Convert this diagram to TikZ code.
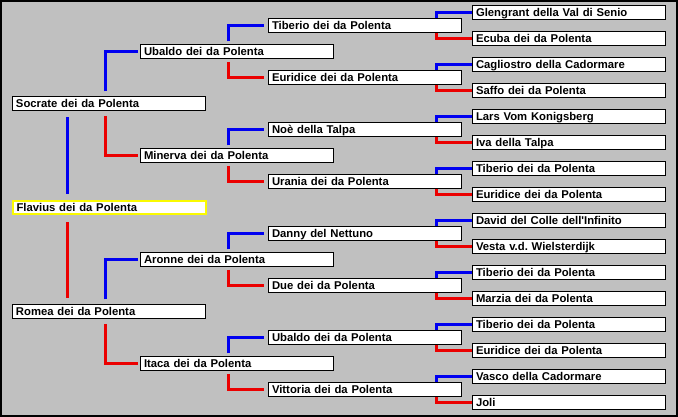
\documentclass[tikz,border=0pt]{standalone}
\usepackage{fontspec}
\setmainfont{Liberation Sans}[Ligatures=TeXOff]
\definecolor{bg}{RGB}{192,192,192}
\definecolor{lnblue}{RGB}{0,0,240}
\definecolor{lnred}{RGB}{235,0,0}
\definecolor{hiyellow}{RGB}{250,250,0}
\tikzset{
  person/.style={draw=black, line width=1pt, fill=white, anchor=west,
    text width=186pt, align=left, inner xsep=3.5pt, inner ysep=0pt,
    minimum height=13.5pt, text height=10pt, text depth=1.9pt,
    font=\bfseries\fontsize{11.3}{13}\selectfont\frenchspacing},
  focus/.style={person, draw=hiyellow, line width=2pt},
  father/.style={draw=lnblue, line width=3pt},
  mother/.style={draw=lnred, line width=3pt}
}
% #1 parent, #2 father, #3 mother, #4 x offset, #5 gap at parent, #6 gap at child
\newcommand\pedlink[6]{%
  \draw[father] ([xshift=#4pt,yshift=#5pt]#1.north west) |- ([xshift=-#6pt]#2.west);
  \draw[mother] ([xshift=#4pt,yshift=-#5pt]#1.south west) |- ([xshift=-#6pt]#3.west);
}
\begin{document}
\frenchspacing
\begin{tikzpicture}[x=1pt,y=-1pt]
\useasboundingbox (0,0) rectangle (678,417);
\fill[bg] (0,0) rectangle (678,417);
\draw[black, line width=2pt] (1,1) rectangle (677,416);

% generation 0
\node[person] (S) at (12,103.6) {Socrate dei da Polenta};
\node[focus]  (F) at (12,207.6) {Flavius dei da Polenta};
\node[person] (R) at (12,311.6) {Romea dei da Polenta};

% generation 1
\node[person] (A1) at (140,51.6)  {Ubaldo dei da Polenta};
\node[person] (A2) at (140,155.6) {Minerva dei da Polenta};
\node[person] (A3) at (140,259.6) {Aronne dei da Polenta};
\node[person] (A4) at (140,363.6) {Itaca dei da Polenta};

% generation 2
\node[person] (B1) at (268,25.6)  {Tiberio dei da Polenta};
\node[person] (B2) at (268,77.6)  {Euridice dei da Polenta};
\node[person] (B3) at (268,129.6) {Noè della Talpa};
\node[person] (B4) at (268,181.6) {Urania dei da Polenta};
\node[person] (B5) at (268,233.6) {Danny del Nettuno};
\node[person] (B6) at (268,285.6) {Due dei da Polenta};
\node[person] (B7) at (268,337.6) {Ubaldo dei da Polenta};
\node[person] (B8) at (268,389.6) {Vittoria dei da Polenta};

% generation 3
\node[person] (C1)  at (472,12.6)  {Glengrant della Val di Senio};
\node[person] (C2)  at (472,38.6)  {Ecuba dei da Polenta};
\node[person] (C3)  at (472,64.6)  {Cagliostro della Cadormare};
\node[person] (C4)  at (472,90.6)  {Saffo dei da Polenta};
\node[person] (C5)  at (472,116.6) {Lars Vom Konigsberg};
\node[person] (C6)  at (472,142.6) {Iva della Talpa};
\node[person] (C7)  at (472,168.6) {Tiberio dei da Polenta};
\node[person] (C8)  at (472,194.6) {Euridice dei da Polenta};
\node[person] (C9)  at (472,220.6) {David del Colle dell'Infinito};
\node[person] (C10) at (472,246.6) {Vesta v.d. Wielsterdijk};
\node[person] (C11) at (472,272.6) {Tiberio dei da Polenta};
\node[person] (C12) at (472,298.6) {Marzia dei da Polenta};
\node[person] (C13) at (472,324.6) {Tiberio dei da Polenta};
\node[person] (C14) at (472,350.6) {Euridice dei da Polenta};
\node[person] (C15) at (472,376.6) {Vasco della Cadormare};
\node[person] (C16) at (472,402.6) {Joli};

% Flavius to his parents
\draw[father] ([xshift=55pt,yshift=6pt]F.north west) -- ([xshift=55pt,yshift=-6pt]S.south west);
\draw[mother] ([xshift=55pt,yshift=-7pt]F.south west) -- ([xshift=55pt,yshift=6pt]R.north west);

% generation 0 -> 1
\pedlink{S}{A1}{A2}{93.3}{5}{2}
\pedlink{R}{A3}{A4}{93.3}{5}{2}

% generation 1 -> 2
\pedlink{A1}{B1}{B2}{88.3}{3}{4}
\pedlink{A2}{B3}{B4}{88.3}{3}{4}
\pedlink{A3}{B5}{B6}{88.3}{3}{4}
\pedlink{A4}{B7}{B8}{88.3}{3}{4}

% generation 2 -> 3
\pedlink{B1}{C1}{C2}{168}{0}{0}
\pedlink{B2}{C3}{C4}{168}{0}{0}
\pedlink{B3}{C5}{C6}{168}{0}{0}
\pedlink{B4}{C7}{C8}{168}{0}{0}
\pedlink{B5}{C9}{C10}{168}{0}{0}
\pedlink{B6}{C11}{C12}{168}{0}{0}
\pedlink{B7}{C13}{C14}{168}{0}{0}
\pedlink{B8}{C15}{C16}{168}{0}{0}
\end{tikzpicture}
\end{document}
